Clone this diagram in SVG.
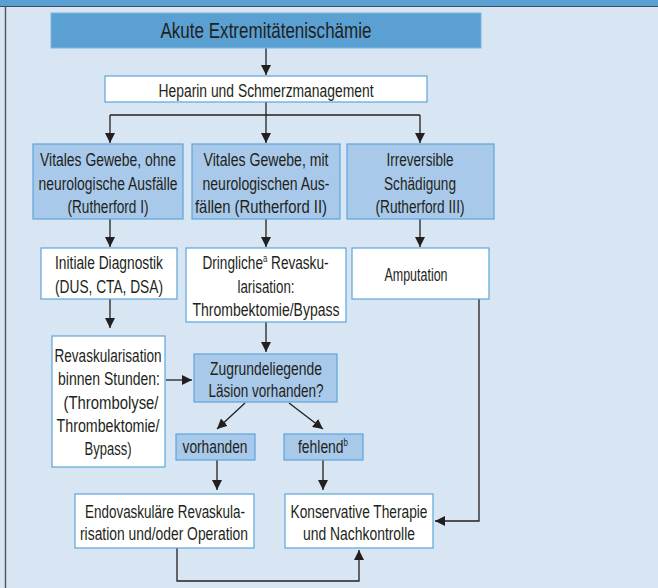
<svg xmlns="http://www.w3.org/2000/svg" width="658" height="588" viewBox="0 0 658 588">
<defs>
<style>
text{font-family:"Liberation Sans",Arial,sans-serif;fill:#231f20;text-anchor:middle;font-size:17.5px}
.title{font-size:22px}
.hb{fill:#ffffff;stroke:#5da5da;stroke-width:1.2}
.bb{fill:#a8c9e9;stroke:#5da5da;stroke-width:1.2}
.c{fill:none;stroke:#231f20;stroke-width:1.3}
.sup{font-size:10px}
</style>
<marker id="ah" viewBox="0 0 10 10" refX="10" refY="5" markerWidth="10" markerHeight="10" markerUnits="userSpaceOnUse" orient="auto">
<path d="M0,0 L10,5 L0,10 z" fill="#231f20"/>
</marker>
</defs>
<rect x="0" y="0" width="658" height="588" fill="#d8e6f3"/>
<rect x="0" y="0" width="658" height="6" fill="#5aa0d3"/>
<line x1="0" y1="6.5" x2="658" y2="6.5" stroke="#3d4d5c" stroke-width="1.2"/>
<line x1="5.5" y1="6" x2="5.5" y2="588" stroke="#555" stroke-width="1.4"/>

<g id="connectors">
<path class="c" d="M266,48 V75" marker-end="url(#ah)"/>
<path class="c" d="M266,102 V115"/>
<path class="c" d="M110,115 H420"/>
<path class="c" d="M110,115 V143" marker-end="url(#ah)"/>
<path class="c" d="M266,115 V143" marker-end="url(#ah)"/>
<path class="c" d="M420,115 V143" marker-end="url(#ah)"/>
<path class="c" d="M110,219 V247" marker-end="url(#ah)"/>
<path class="c" d="M266,219 V247" marker-end="url(#ah)"/>
<path class="c" d="M420,219 V247" marker-end="url(#ah)"/>
<path class="c" d="M110,299 V328" marker-end="url(#ah)"/>
<path class="c" d="M266,322 V352" marker-end="url(#ah)"/>
<path class="c" d="M166,380 H192" marker-end="url(#ah)"/>
<path class="c" d="M245,403 L217,429" marker-end="url(#ah)"/>
<path class="c" d="M289,403 L323,429" marker-end="url(#ah)"/>
<path class="c" d="M217,460 V490" marker-end="url(#ah)"/>
<path class="c" d="M323,460 V490" marker-end="url(#ah)"/>
<path class="c" d="M479,299 V521 H435" marker-end="url(#ah)"/>
<path class="c" d="M177,548 V581 H359 V550" marker-end="url(#ah)"/>
</g>

<g id="n-title"><rect x="51" y="13" width="430" height="35" fill="#5aa0d3" stroke="#7ab6e2" stroke-width="1"/><text class="title" x="266" y="38" textLength="211" lengthAdjust="spacingAndGlyphs">Akute Extremitätenischämie</text></g>
<g id="n-heparin"><rect class="hb" x="105" y="76" width="322" height="26"/><text x="266" y="97" textLength="215" lengthAdjust="spacingAndGlyphs">Heparin und Schmerzmanagement</text></g>

<g id="n-r1"><rect class="bb" x="33" y="144" width="150" height="75"/><text x="108" y="166" textLength="136" lengthAdjust="spacingAndGlyphs">Vitales Gewebe, ohne</text><text x="108" y="190" textLength="139" lengthAdjust="spacingAndGlyphs">neurologische Ausfälle</text><text x="108" y="213" textLength="81" lengthAdjust="spacingAndGlyphs">(Rutherford I)</text></g>
<g id="n-r2"><rect class="bb" x="192" y="144" width="148" height="75"/><text x="266" y="166" textLength="125" lengthAdjust="spacingAndGlyphs">Vitales Gewebe, mit</text><text x="266" y="190" textLength="127" lengthAdjust="spacingAndGlyphs">neurologischen Aus-</text><text x="261" y="213" textLength="132" lengthAdjust="spacingAndGlyphs">fällen (Rutherford II)</text></g>
<g id="n-r3"><rect class="bb" x="347" y="144" width="147" height="75"/><text x="420" y="166" textLength="67" lengthAdjust="spacingAndGlyphs">Irreversible</text><text x="420" y="190" textLength="72" lengthAdjust="spacingAndGlyphs">Schädigung</text><text x="420" y="213" textLength="89" lengthAdjust="spacingAndGlyphs">(Rutherford III)</text></g>

<g id="n-diag"><rect class="hb" x="41" y="248" width="136" height="51"/><text x="109" y="269" textLength="108" lengthAdjust="spacingAndGlyphs">Initiale Diagnostik</text><text x="109" y="293" textLength="108" lengthAdjust="spacingAndGlyphs">(DUS, CTA, DSA)</text></g>
<g id="n-dring"><rect class="hb" x="186" y="248" width="160" height="74"/><text x="265.5" y="269" textLength="126" lengthAdjust="spacingAndGlyphs">Dringliche<tspan class="sup" dy="-7">a</tspan><tspan dy="7"> Revasku-</tspan></text><text x="266" y="293" textLength="57" lengthAdjust="spacingAndGlyphs">larisation:</text><text x="266" y="316" textLength="147" lengthAdjust="spacingAndGlyphs">Thrombektomie/Bypass</text></g>
<g id="n-amp"><rect class="hb" x="352" y="248" width="137" height="51"/><text x="416" y="281" textLength="63" lengthAdjust="spacingAndGlyphs">Amputation</text></g>

<g id="n-revask"><rect class="hb" x="52" y="336" width="113" height="131"/><text x="108" y="362" textLength="107" lengthAdjust="spacingAndGlyphs">Revaskularisation</text><text x="109" y="385" textLength="102" lengthAdjust="spacingAndGlyphs">binnen Stunden:</text><text x="111" y="409" textLength="95" lengthAdjust="spacingAndGlyphs">(Thrombolyse/</text><text x="108" y="432" textLength="103" lengthAdjust="spacingAndGlyphs">Thrombektomie/</text><text x="108" y="455" textLength="47" lengthAdjust="spacingAndGlyphs">Bypass)</text></g>
<g id="n-lesion"><rect class="bb" x="194" y="354" width="143" height="48"/><text x="266" y="375" textLength="112" lengthAdjust="spacingAndGlyphs">Zugrundeliegende</text><text x="266" y="397" textLength="115" lengthAdjust="spacingAndGlyphs">Läsion vorhanden?</text></g>
<g id="n-vorh"><rect class="bb" x="176" y="434" width="79" height="26"/><text x="215" y="453" textLength="65" lengthAdjust="spacingAndGlyphs">vorhanden</text></g>
<g id="n-fehl"><rect class="bb" x="284" y="434" width="79" height="26"/><text x="323" y="453" textLength="50" lengthAdjust="spacingAndGlyphs">fehlend<tspan class="sup" dy="-7">b</tspan></text></g>
<g id="n-endo"><rect class="hb" x="75" y="494" width="179" height="54"/><text x="165" y="518" textLength="160" lengthAdjust="spacingAndGlyphs">Endovaskuläre Revaskula-</text><text x="164" y="540" textLength="168" lengthAdjust="spacingAndGlyphs">risation und/oder Operation</text></g>
<g id="n-kons"><rect class="hb" x="285" y="494" width="148" height="54"/><text x="359" y="518" textLength="137" lengthAdjust="spacingAndGlyphs">Konservative Therapie</text><text x="359" y="540" textLength="112" lengthAdjust="spacingAndGlyphs">und Nachkontrolle</text></g>
</svg>
